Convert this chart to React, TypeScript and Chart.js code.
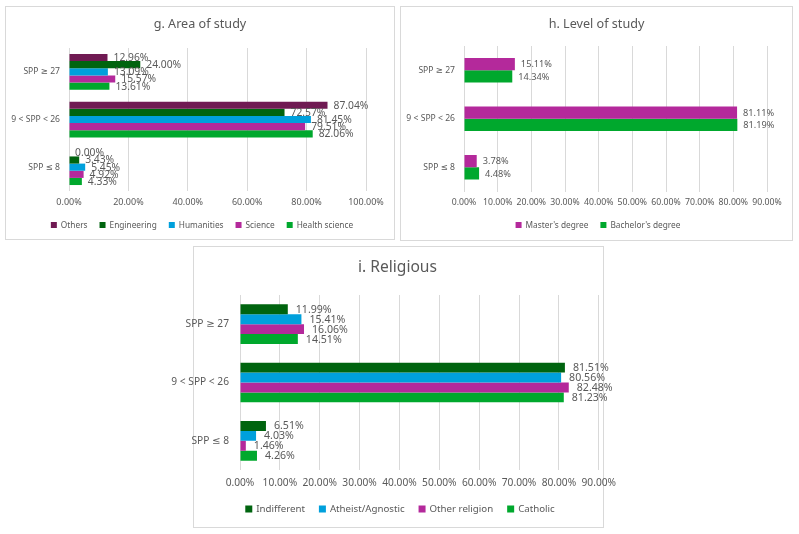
import React, { useEffect, useRef } from "react";
import { Chart, registerables } from "chart.js";

Chart.register(...registerables);

const FONT = '"Noto Sans", "DejaVu Sans", sans-serif';
const TEXT = "#595959";
const GRID = "#d9d9d9";
const FRAME = "#d9d9d9";

const PLUM = "#701a53";
const DARK_GREEN = "#00640f";
const BLUE = "#00a0dc";
const MAGENTA = "#b4299b";
const GREEN = "#00a82d";

// Score bands shared by every panel (top to bottom)
const sppBands = ["SPP ≥ 27", "9 < SPP < 26", "SPP ≤ 8"];

// g. Area of study (%)
const areaOthers = [12.96, 87.04, 0.0];
const areaEngineering = [24.0, 72.57, 3.43];
const areaHumanities = [13.09, 81.45, 5.45];
const areaScience = [15.57, 79.51, 4.92];
const areaHealth = [13.61, 82.06, 4.33];
const areaTicksMax = 100;
const areaTicksStep = 20;

// h. Level of study (%)
const levelMasters = [15.11, 81.11, 3.78];
const levelBachelors = [14.34, 81.19, 4.48];
const levelTicksMax = 90;
const levelTicksStep = 10;

// i. Religious (%)
const relIndifferent = [11.99, 81.51, 6.51];
const relAtheist = [15.41, 80.56, 4.03];
const relOther = [16.06, 82.48, 1.46];
const relCatholic = [14.51, 81.23, 4.26];
const relTicksMax = 90;
const relTicksStep = 10;

type Series = { label: string; color: string; data: number[] };

type PanelSpec = {
  title: string;
  series: Series[];
  max: number;
  step: number;
  box: { left: number; top: number; width: number; height: number };
  canvasLeft: number;
  canvasWidth: number;
  yWidth: number;
  xHeight: number;
  padding: { top: number; right: number; bottom: number };
  catPct: number;
  yPad: number;
  xPad: number;
  tickSize: number;
  catSize: number;
  valueSize: number;
  valueGap: number;
  titleSize: number;
  titleX: number;
  titleY: number;
  legendX: number;
  legendY: number;
  legendSize: number;
  legendBox: number;
  legendGap: number;
};

// Percent labels at the end of each bar
const valueLabels = {
  id: "valueLabels",
  afterDatasetsDraw(chart: any, _args: any, opts: any) {
    const ctx = chart.ctx;
    ctx.save();
    ctx.font = `${opts.size}px ${FONT}`;
    ctx.fillStyle = TEXT;
    ctx.textAlign = "left";
    ctx.textBaseline = "middle";
    chart.data.datasets.forEach((ds: any, i: number) => {
      const meta = chart.getDatasetMeta(i);
      meta.data.forEach((bar: any, j: number) => {
        const v = ds.data[j] as number;
        ctx.fillText(v.toFixed(2) + "%", bar.x + opts.gap, bar.y + 0.5);
      });
    });
    ctx.restore();
  },
};

// Panel title and a centred legend row
const panelDecor = {
  id: "panelDecor",
  afterDraw(chart: any, _args: any, opts: any) {
    const ctx = chart.ctx;
    ctx.save();
    ctx.fillStyle = TEXT;
    ctx.font = `${opts.titleSize}px ${FONT}`;
    ctx.textAlign = "center";
    ctx.textBaseline = "middle";
    ctx.fillText(opts.title, opts.titleX, opts.titleY);

    ctx.font = `${opts.legendSize}px ${FONT}`;
    ctx.textAlign = "left";
    const box = opts.legendBox;
    const inner = 4;
    const items = chart.data.datasets.map((ds: any) => ({
      text: ds.label as string,
      color: ds.backgroundColor as string,
    }));
    const widths = items.map((it: any) => box + inner + ctx.measureText(it.text).width);
    const total =
      widths.reduce((a: number, b: number) => a + b, 0) + opts.legendGap * (items.length - 1);
    let x = opts.legendX - total / 2;
    items.forEach((it: any, k: number) => {
      ctx.fillStyle = it.color;
      ctx.fillRect(x, opts.legendY - box / 2, box, box);
      ctx.fillStyle = TEXT;
      ctx.fillText(it.text, x + box + inner, opts.legendY + 0.5);
      x += widths[k] + opts.legendGap;
    });
    ctx.restore();
  },
};

function Panel({ spec }: { spec: PanelSpec }) {
  const ref = useRef<HTMLCanvasElement | null>(null);

  useEffect(() => {
    if (!ref.current) return;
    const chart = new Chart(ref.current, {
      type: "bar",
      data: {
        labels: sppBands,
        datasets: spec.series.map((s) => ({
          label: s.label,
          data: s.data,
          backgroundColor: s.color,
          borderWidth: 0,
          categoryPercentage: spec.catPct,
          barPercentage: 1,
        })),
      },
      options: {
        indexAxis: "y",
        animation: false,
        responsive: false,
        maintainAspectRatio: false,
        devicePixelRatio: 1,
        layout: {
          padding: {
            left: 0,
            top: spec.padding.top,
            right: spec.padding.right,
            bottom: spec.padding.bottom,
          },
        },
        scales: {
          x: {
            min: 0,
            max: spec.max,
            afterFit: (scale: any) => {
              scale.height = spec.xHeight;
            },
            grid: { color: GRID, lineWidth: 1, drawTicks: false },
            border: { display: false },
            ticks: {
              stepSize: spec.step,
              autoSkip: false,
              maxRotation: 0,
              padding: spec.xPad,
              color: TEXT,
              font: { family: FONT, size: spec.tickSize },
              callback: (v: any) => Number(v).toFixed(2) + "%",
            },
          },
          y: {
            afterFit: (scale: any) => {
              scale.width = spec.yWidth;
            },
            grid: { display: false, drawTicks: false },
            border: { display: false },
            ticks: {
              padding: spec.yPad,
              color: TEXT,
              font: { family: FONT, size: spec.catSize },
            },
          },
        },
        plugins: {
          legend: { display: false },
          title: { display: false },
          tooltip: { enabled: false },
          valueLabels: { size: spec.valueSize, gap: spec.valueGap },
          panelDecor: {
            title: spec.title,
            titleSize: spec.titleSize,
            titleX: spec.titleX,
            titleY: spec.titleY,
            legendX: spec.legendX,
            legendY: spec.legendY,
            legendSize: spec.legendSize,
            legendBox: spec.legendBox,
            legendGap: spec.legendGap,
          },
        } as any,
      },
      plugins: [valueLabels, panelDecor],
    });
    return () => chart.destroy();
  }, [spec]);

  const b = spec.box;
  return (
    <>
      <div
        style={{
          position: "absolute",
          left: b.left,
          top: b.top,
          width: b.width,
          height: b.height,
          boxSizing: "border-box",
          border: `1px solid ${FRAME}`,
          background: "#ffffff",
        }}
      />
      <canvas
        ref={ref}
        width={spec.canvasWidth}
        height={b.height}
        style={{
          position: "absolute",
          left: spec.canvasLeft,
          top: b.top,
          width: spec.canvasWidth,
          height: b.height,
        }}
      />
    </>
  );
}

const areaPanel: PanelSpec = {
  title: "g. Area of study",
  series: [
    { label: "Others", color: PLUM, data: areaOthers },
    { label: "Engineering", color: DARK_GREEN, data: areaEngineering },
    { label: "Humanities", color: BLUE, data: areaHumanities },
    { label: "Science", color: MAGENTA, data: areaScience },
    { label: "Health science", color: GREEN, data: areaHealth },
  ],
  max: areaTicksMax,
  step: areaTicksStep,
  box: { left: 5, top: 6, width: 390, height: 234 },
  canvasLeft: 5,
  canvasWidth: 390,
  yWidth: 64,
  xHeight: 22,
  padding: { top: 42, right: 29, bottom: 27 },
  catPct: 0.75,
  yPad: 9,
  xPad: 6,
  tickSize: 9,
  catSize: 8.6,
  valueSize: 10.3,
  valueGap: 6,
  titleSize: 12.6,
  titleX: 195,
  titleY: 18.5,
  legendX: 197,
  legendY: 219,
  legendSize: 8.3,
  legendBox: 6,
  legendGap: 12,
};

const levelPanel: PanelSpec = {
  title: "h. Level of study",
  series: [
    { label: "Master's degree", color: MAGENTA, data: levelMasters },
    { label: "Bachelor's degree", color: GREEN, data: levelBachelors },
  ],
  max: levelTicksMax,
  step: levelTicksStep,
  box: { left: 400, top: 6, width: 393, height: 235 },
  canvasLeft: 400,
  canvasWidth: 393,
  yWidth: 64,
  xHeight: 22,
  padding: { top: 40, right: 26, bottom: 27.5 },
  catPct: 0.51,
  yPad: 9,
  xPad: 6,
  tickSize: 8.7,
  catSize: 8.6,
  valueSize: 9.2,
  valueGap: 6,
  titleSize: 12.6,
  titleX: 196.5,
  titleY: 18.5,
  legendX: 198,
  legendY: 219,
  legendSize: 8.3,
  legendBox: 6,
  legendGap: 12,
};

const religionPanel: PanelSpec = {
  title: "i. Religious",
  series: [
    { label: "Indifferent", color: DARK_GREEN, data: relIndifferent },
    { label: "Atheist/Agnostic", color: BLUE, data: relAtheist },
    { label: "Other religion", color: MAGENTA, data: relOther },
    { label: "Catholic", color: GREEN, data: relCatholic },
  ],
  max: relTicksMax,
  step: relTicksStep,
  box: { left: 193, top: 246, width: 411, height: 282 },
  canvasLeft: 163,
  canvasWidth: 460,
  yWidth: 77,
  xHeight: 24,
  padding: { top: 49, right: 23, bottom: 34 },
  catPct: 0.68,
  yPad: 11,
  xPad: 7,
  tickSize: 10.2,
  catSize: 10.2,
  valueSize: 10.6,
  valueGap: 8,
  titleSize: 15.6,
  titleX: 234.5,
  titleY: 22,
  legendX: 237,
  legendY: 263,
  legendSize: 9.7,
  legendBox: 7,
  legendGap: 14,
};

export default function App() {
  return (
    <div
      style={{
        position: "absolute",
        left: 0,
        top: 0,
        width: 799,
        height: 534,
        background: "#ffffff",
        overflow: "hidden",
      }}
    >
      <Panel spec={areaPanel} />
      <Panel spec={levelPanel} />
      <Panel spec={religionPanel} />
    </div>
  );
}
